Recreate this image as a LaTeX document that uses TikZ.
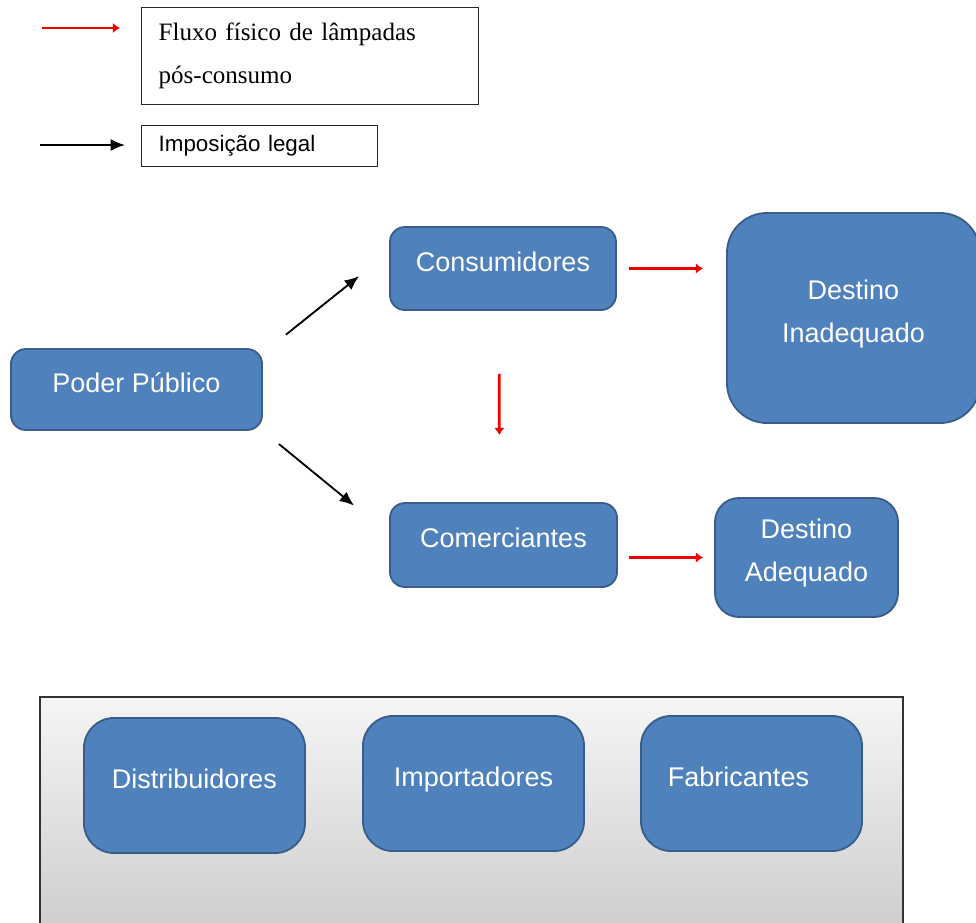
\documentclass[tikz,border=0pt]{standalone}
\usepackage{fontspec}
\setmainfont{Liberation Sans}
\newfontfamily\legserif{Liberation Serif}
\usetikzlibrary{arrows.meta}
\definecolor{boxblue}{HTML}{4F81BD}
\definecolor{boxedge}{HTML}{385D8A}
\definecolor{flowred}{HTML}{F00000}
\begin{document}
\begin{tikzpicture}[x=0.025cm,y=-0.025cm,
    agent/.style={draw=boxedge, line width=1.3pt, fill=boxblue, text=white,
        font=\fontsize{19.2}{30.6}\selectfont, align=center, text depth=10pt,
        rounded corners=0.375cm},
    flow/.style={draw=flowred, line width=2pt, -{Latex[length=0.18cm,width=0.26cm]}},
    legal/.style={draw=black, line width=1.3pt, -{Latex[length=0.36cm,width=0.3cm]}},
    legbox/.style={draw=black!85, line width=1pt, anchor=north west, align=left,
        inner xsep=0.425cm}]
    \useasboundingbox (0,0) rectangle (976,923);
    % legend
    \coordinate (fluxoA) at (42,28);
    \coordinate (fluxoB) at (120,28);
    \coordinate (legalA) at (40,145);
    \coordinate (legalB) at (125,145);
    \draw[flow] (fluxoA) -- (fluxoB);
    \draw[legal] (legalA) -- (legalB);
    \node[legbox, minimum width=8.425cm, minimum height=2.425cm, text width=7.575cm,
        font=\legserif\fontsize{17.8}{30.6}\selectfont] (legflux) at (141,7)
        {Fluxo físico de lâmpadas\\pós-consumo};
    \node[legbox, minimum width=5.9cm, minimum height=1.025cm, text width=5.05cm,
        font=\fontsize{15.9}{19}\selectfont] (leglegal) at (141,125) {Imposição legal};
    % main boxes
    \node[agent, minimum width=5.65cm, minimum height=2.075cm] (cons) at (503,268.5) {Consumidores};
    \node[agent, minimum width=6.325cm, minimum height=5.25cm, rounded corners=1cm] (inad) at (853.5,318) {Destino\\Inadequado};
    \node[agent, minimum width=6.275cm, minimum height=2.025cm] (poder) at (136.5,389.5) {Poder Público};
    \node[agent, minimum width=5.675cm, minimum height=2.1cm] (comm) at (503.5,545) {Comerciantes};
    \node[agent, minimum width=4.575cm, minimum height=2.975cm, rounded corners=0.6cm] (adeq) at (806.5,557.5) {Destino\\Adequado};
    % arrows
    \draw[legal, shorten <=0.735cm, shorten >=0.96cm] ([yshift=-0.125cm]poder.north east) -- ([yshift=0.41cm]cons.west);
    \draw[legal, shorten <=0.515cm, shorten >=1.13cm] (poder.south east) -- ([yshift=0.27cm]comm.west);
    \draw[flow, shorten <=0.3cm, shorten >=0.575cm] (cons.east) -- (cons.east -| inad.west);
    \draw[flow, shorten <=1.575cm, shorten >=1.675cm] ([xshift=-0.1cm]cons.south) -- ([xshift=-0.1cm]comm.north);
    \draw[flow, shorten <=0.275cm, shorten >=0.275cm] (adeq.west -| comm.east) -- (adeq.west);
    % bottom panel
    \node[draw=black!80, line width=1.2pt, top color=white!96!black, bottom color=white!80!black,
        minimum width=21.575cm, minimum height=6.075cm] (panel) at (471.5,818.5) {};
    \node[agent, minimum width=5.525cm, minimum height=3.375cm, rounded corners=0.75cm] (dist) at (194.5,785.5) {Distribuidores};
    \node[agent, minimum width=5.525cm, minimum height=3.375cm, rounded corners=0.75cm] (impo) at (473.5,783.5) {Importadores};
    \node[agent, minimum width=5.525cm, minimum height=3.375cm, rounded corners=0.75cm] (fabr) at (751.5,783.5) {Fabricantes\hspace*{0.65cm}};
\end{tikzpicture}
\end{document}
